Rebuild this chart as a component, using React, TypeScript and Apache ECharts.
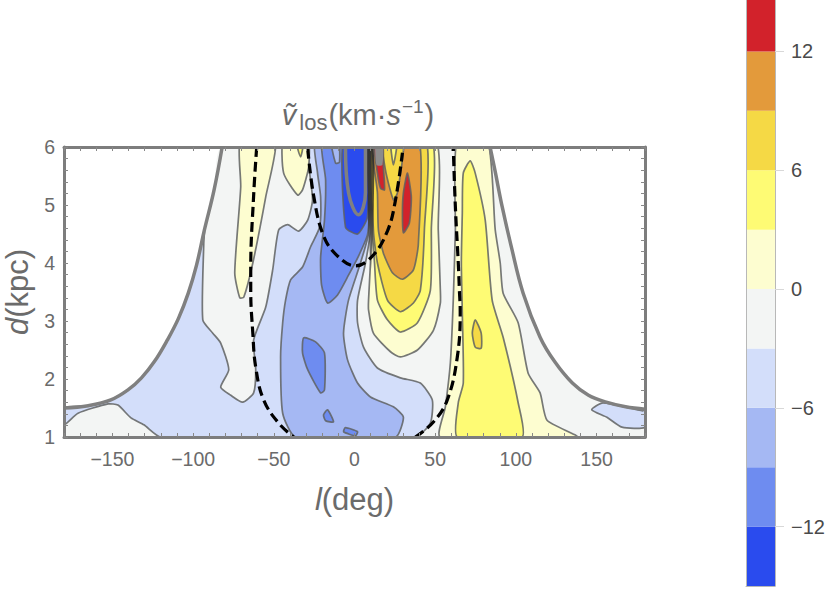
import { useEffect, useRef } from 'react';
import * as echarts from 'echarts';

type Pt = [number, number];

const xTickLabels = [-150, -100, -50, 0, 50, 100, 150];
const barTickLabels = [-12, -6, 0, 6, 12];
const barLevels = [-15, -12, -9, -6, -3, 0, 3, 6, 9, 12, 15];
const barColors = ['#2a4bee', '#6e8cf0', '#a5b8f3', '#d3defa', '#f3f5f4', '#fdfdd0', '#fefb74', '#f5d945', '#e39a3b', '#d2222b'];

// l (deg), d (kpc)
const envelopeLeft: Pt[] = [[-180, 1.5], [-165, 1.54], [-151, 1.64], [-140, 1.82], [-132, 2.02], [-124, 2.3], [-116, 2.67], [-109, 3.05], [-103, 3.48], [-98, 3.95], [-93, 4.57], [-87, 5.26], [-82, 6]];
const envelopeRight: Pt[] = [[84, 6], [87, 5.6], [91.5, 4.97], [97, 4.3], [104.5, 3.48], [115, 2.72], [124, 2.3], [135, 1.93], [145, 1.72], [156, 1.6], [168, 1.52], [180, 1.48]];

const dashOuterLeft: Pt[] = [[-60.6, 6], [-62.5, 5.16], [-64.3, 3.9], [-64.3, 3.53], [-63, 2.79], [-61.2, 2.2], [-56.3, 1.64], [-47, 1.24], [-37.7, 1]];
const dashOuterRight: Pt[] = [[37.7, 1], [48.9, 1.26], [57.5, 1.64], [63.7, 2.38], [65.5, 3.17], [65, 3.53], [64.3, 4], [62.5, 4.97], [61.2, 6]];
const dashInner: Pt[] = [[-29, 5.97], [-25.3, 5.16], [-19.2, 4.47], [-10.5, 4.12], [0.6, 3.95], [11.1, 4.12], [20.4, 4.55], [25.3, 5.07], [29.7, 5.9]];
const ringTop: Pt[] = [[-5.6, 6], [-3.7, 5.21], [2.5, 4.83], [6.8, 5.21], [6.8, 6]];

const neg3Main: Pt[] = [[-180, 1.21], [-180, 1.5], [-165, 1.54], [-151, 1.64], [-140, 1.82], [-132, 2.02], [-124, 2.3], [-116, 2.67], [-109, 3.05], [-103, 3.48], [-98, 3.95], [-93, 4.57], [-93.4, 4.34], [-94, 3.02], [-87.8, 2.79], [-82.9, 2.62], [-77.9, 2.16], [-82.9, 1.86], [-76.7, 1.72], [-69.3, 1.6], [-62.5, 1.76], [-61.2, 2.16], [-62.5, 2.67], [-55, 3.24], [-50.7, 3.88], [-47, 4.57], [-41.4, 4.66], [-34.6, 4.55], [-29, 4.74], [-26, 5.09], [-28.4, 5.72], [-27.2, 6.15], [9.9, 6.15], [9.9, 4.57], [6.8, 4], [1.9, 3.36], [1.9, 2.97], [5.6, 2.55], [14.2, 2.19], [28.4, 2.02], [40.8, 1.93], [48.2, 1.64], [47, 1.24], [37.7, 1], [-120, 1], [-130.5, 1.21], [-138.5, 1.33], [-146.6, 1.55], [-152.7, 1.57], [-171.3, 1.41]];
const neg3Right: Pt[] = [[147, 1.47], [154, 1.59], [178.7, 1.45], [180, 1.48], [180, 1.17], [165.7, 1.17], [156.4, 1.34]];
const neg6Main: Pt[] = [[-24.1, 6.15], [-22.9, 5.55], [-21, 5.14], [-21.6, 4.62], [-27.2, 4.28], [-32.2, 3.93], [-39.6, 3.71], [-42.7, 3.36], [-44.5, 2.97], [-45.8, 2.38], [-44.5, 1.41], [-36.5, 1], [25.4, 1], [30.3, 1.34], [24.1, 1.52], [9.9, 1.69], [1.9, 1.93], [-4.3, 2.33], [-6.8, 2.79], [-3.7, 3.36], [3.7, 4], [8.7, 4.52], [9.3, 6.15]];
const neg9Main: Pt[] = [[-19.8, 6.15], [-17.9, 5.43], [-18.6, 4.74], [-21, 4.1], [-20.4, 3.62], [-16.7, 3.31], [-10.5, 3.45], [-3.7, 3.79], [2.5, 4.12], [8, 4.48], [9, 4.83], [9, 6.15]];
const neg6Notch: Pt[] = [[-14.8, 6.15], [-11.7, 5.72], [-9.3, 5.74], [-9.9, 6.15]];
const neg9Blob: Pt[] = [[-31.5, 2.71], [-24.1, 2.64], [-18.6, 2.45], [-18.6, 1.81], [-21, 1.76], [-29, 2.16], [-32.2, 2.45]];
const neg9Small: Pt[] = [[-16.7, 1.47], [-13, 1.26], [-17.9, 1.28], [-19.2, 1.38]];
const neg9Foot: Pt[] = [[-5.6, 1.16], [1.9, 1.09], [0.6, 1.02], [-6.8, 1.09]];
const neg12Core: Pt[] = [[-6.8, 6.15], [-5.6, 4.62], [1.9, 4.5], [8, 4.79], [8.7, 6.15]];
// the steep jet where the contours pile up
const jetCore: Pt[] = [[8, 6.15], [12, 6.15], [12, 5], [11.5, 4.4], [10.5, 3.9], [9.5, 4], [8.5, 4.6], [8, 5.2]];

const pos0Main: Pt[] = [[10.2, 6.15], [10.5, 4.57], [9.9, 4], [8.7, 3.36], [8.7, 3.19], [11.7, 2.79], [22.3, 2.47], [28.4, 2.38], [39, 2.5], [48.9, 2.84], [53.2, 3.31], [53.2, 3.53], [51.9, 4.57], [50, 6.15]];
const pos3Main: Pt[] = [[10.8, 6.15], [11.1, 4.57], [12.4, 4], [14.2, 3.36], [20.4, 3.02], [28.4, 2.81], [39, 2.97], [47, 3.53], [47.6, 4.57], [47.6, 6.15]];
const pos6Main: Pt[] = [[11.4, 6.15], [11.7, 4.57], [14.2, 4], [20.4, 3.36], [28.4, 3.16], [36.5, 3.31], [40.8, 3.53], [43.3, 4.57], [43.9, 6.15]];
const pos9Main: Pt[] = [[11.7, 6.15], [14.2, 5.21], [14.8, 4.57], [17.9, 4.17], [23.5, 3.83], [29.7, 3.72], [36.5, 3.88], [39.6, 4.34], [39.6, 6.15]];
const pos6Wedge: Pt[] = [[17.3, 6.15], [19.2, 5.6], [24.1, 5.09], [26.6, 5.21], [30.3, 6.15]];
const pos3Wedge: Pt[] = [[22.3, 6.15], [24.1, 5.69], [26.6, 6.15]];
const pos12Left: Pt[] = [[11.7, 6.15], [14.2, 5.55], [16.1, 5.29], [18.6, 5.26], [17.9, 5.66], [17.3, 6.15]];
const pos12Cap: Pt[] = [[13, 6.15], [13.6, 5.69], [17.3, 5.69], [17.3, 6.15]];
const pos12Right: Pt[] = [[32.8, 5.55], [35.2, 5.14], [34, 4.69], [30.3, 4.52], [29.7, 4.86], [30.3, 5.21]];

const pos0East: Pt[] = [[63.7, 6.15], [62.5, 4.57], [61.2, 3.36], [59.4, 2.28], [56.3, 1.52], [53.2, 1], [137.9, 1], [119.3, 1.29], [115, 1.76], [107.6, 2.1], [101.4, 2.97], [92.1, 3.48], [90.3, 4], [87.2, 4.57], [82.2, 6.15]];
const pos3East: Pt[] = [[71.7, 5.76], [67.4, 5.55], [66.8, 4.86], [66.2, 4], [66.8, 3.14], [67.4, 1.93], [64.3, 1.59], [63.7, 1], [103.9, 1], [101.4, 1.59], [92.1, 2.72], [85.3, 3.36], [81, 4.74], [74.8, 5.55]];
const pos6East: Pt[] = [[74.8, 3.02], [78.5, 2.79], [78.5, 2.53], [74.8, 2.55], [73, 2.79]];
const pos0West: Pt[] = [[-70.5, 6.15], [-70.5, 5.31], [-74.2, 3.83], [-71.1, 3.4], [-68.6, 3.41], [-63, 4], [-55, 5.14], [-48.9, 6.15]];
const pos0Top: Pt[] = [[-43.9, 6.15], [-43.9, 5.55], [-35.2, 5.17], [-32.2, 5.26], [-28.4, 5.66], [-29, 6.15]];
const pos3Top: Pt[] = [[-36.5, 6.15], [-33.4, 5.83], [-31.5, 6.15]];

const [cNeg15, cNeg12, cNeg9, cNeg6, cNeg3, cPos0, cPos3, cPos6, cPos9, cPos12] = barColors;
const jetFill = new echarts.graphic.LinearGradient(0, 0, 0, 1, [
  { offset: 0, color: 'rgba(40,40,40,0.85)' },
  { offset: 0.55, color: 'rgba(40,40,40,0.75)' },
  { offset: 1, color: 'rgba(60,60,60,0.1)' },
]);
const layers: { pts: Pt[]; fill: any; line?: boolean }[] = [
  { pts: [...envelopeLeft, ...envelopeRight, [180, 1], [-180, 1]], fill: cNeg3, line: false },
  { pts: neg3Main, fill: cNeg6 },
  { pts: neg3Right, fill: cNeg6 },
  { pts: neg6Main, fill: cNeg9 },
  { pts: neg9Main, fill: cNeg12 },
  { pts: neg6Notch, fill: cNeg9 },
  { pts: neg9Blob, fill: cNeg12 },
  { pts: neg9Small, fill: cNeg12 },
  { pts: neg9Foot, fill: cNeg12 },
  { pts: neg12Core, fill: cNeg15 },
  { pts: pos0Main, fill: cPos0 },
  { pts: pos3Main, fill: cPos3 },
  { pts: pos6Main, fill: cPos6 },
  { pts: pos9Main, fill: cPos9 },
  { pts: jetCore, fill: jetFill, line: false },
  { pts: pos6Wedge, fill: cPos6 },
  { pts: pos3Wedge, fill: cPos3 },
  { pts: pos12Left, fill: cPos12 },
  { pts: pos12Cap, fill: '#8c8c8c', line: false },
  { pts: pos12Right, fill: cPos12 },
  { pts: pos0East, fill: cPos0 },
  { pts: pos3East, fill: cPos3 },
  { pts: pos6East, fill: cPos6 },
  { pts: pos0West, fill: cPos0 },
  { pts: pos0Top, fill: cPos0 },
  { pts: pos3Top, fill: cPos3 },
];

const FONT = '"Liberation Sans", Arial, sans-serif';
const FRAME = '#7d7d7d';
const TEXT = '#6b6b6b';

const minusLabel = (v: number) => (v < 0 ? '\u2212' + Math.abs(v) : String(v));

const frameAxis = {
  z: 5,
  splitLine: { show: false },
  axisLine: { show: true, onZero: false, lineStyle: { color: FRAME, width: 3 } },
  axisTick: { show: true, inside: true, length: 4, lineStyle: { color: '#888', width: 1 } },
};

const dashed = (data: Pt[]) => ({
  type: 'line',
  data,
  smooth: 0.4,
  symbol: 'none',
  z: 4,
  lineStyle: { color: '#000', width: 3.2, type: [10, 5] },
});

const grayLine = (data: Pt[]) => ({
  type: 'line',
  data,
  smooth: 0.4,
  symbol: 'none',
  z: 3,
  lineStyle: { color: '#808080', width: 3.5 },
});

const App = () => {
  const chartRef = useRef<HTMLDivElement>(null);

  useEffect(() => {
    if (!chartRef.current) return;

    const myChart = echarts.init(chartRef.current, null, { renderer: 'svg' });

    const titleBase = { fontFamily: FONT, fontWeight: 'normal', color: TEXT };
    const option = {
      animation: false,
      backgroundColor: '#fff',
      title: {
        left: 353,
        top: 92,
        textAlign: 'center',
        text: '{v|\u1e7d}{s|los}{n|(km\u00b7}{i|s}{e|\u22121}{n|)}',
        textStyle: {
          fontWeight: 'normal',
          rich: {
            v: { ...titleBase, fontStyle: 'italic', fontSize: 29, lineHeight: 36 },
            s: { ...titleBase, fontSize: 22, verticalAlign: 'bottom', lineHeight: 24, padding: [0, 1, 0, 3] },
            n: { ...titleBase, fontSize: 29, lineHeight: 36 },
            i: { ...titleBase, fontStyle: 'italic', fontSize: 29, lineHeight: 36 },
            e: { ...titleBase, fontSize: 19, verticalAlign: 'top', lineHeight: 14, padding: [0, 1, 0, 1] },
          },
        },
      },
      grid: [
        { left: 64, top: 147, width: 581, height: 290, outerBoundsMode: 'none' },
        { left: 746, top: 0, width: 29, height: 586, outerBoundsMode: 'none' },
      ],
      xAxis: [
        {
          ...frameAxis,
          type: 'value',
          gridIndex: 0,
          position: 'bottom',
          min: -180,
          max: 180,
          interval: 10,
          name: '{i|l}{n|(deg)}',
          nameLocation: 'middle',
          nameGap: 47,
          nameTextStyle: {
            rich: {
              i: { fontFamily: FONT, fontStyle: 'italic', fontSize: 31, color: TEXT },
              n: { fontFamily: FONT, fontSize: 31, color: TEXT },
            },
          },
          axisLabel: { customValues: xTickLabels, formatter: minusLabel, fontFamily: FONT, fontSize: 19.5, color: TEXT, margin: 12 },
        },
        {
          ...frameAxis,
          type: 'value',
          gridIndex: 0,
          position: 'top',
          min: -180,
          max: 180,
          interval: 10,
          axisLabel: { show: false },
        },
        {
          type: 'value',
          gridIndex: 1,
          position: 'bottom',
          min: 0,
          max: 1,
          z: 5,
          splitLine: { show: false },
          axisLabel: { show: false },
          axisTick: { show: false },
          axisLine: { show: true, onZero: false, lineStyle: { color: '#b8b8b8', width: 1 } },
        },
      ],
      yAxis: [
        {
          ...frameAxis,
          type: 'value',
          gridIndex: 0,
          position: 'left',
          min: 1,
          max: 6,
          interval: 1,
          minorTick: { show: true, splitNumber: 5, length: 4, lineStyle: { color: '#888' } },
          name: '{i|d}{n|(kpc)}',
          nameLocation: 'middle',
          nameGap: 31,
          nameTextStyle: {
            rich: {
              i: { fontFamily: FONT, fontStyle: 'italic', fontSize: 31, color: TEXT },
              n: { fontFamily: FONT, fontSize: 31, color: TEXT },
            },
          },
          axisLabel: { fontFamily: FONT, fontSize: 19.5, color: TEXT, margin: 9 },
        },
        {
          ...frameAxis,
          type: 'value',
          gridIndex: 0,
          position: 'right',
          min: 1,
          max: 6,
          interval: 1,
          minorTick: { show: true, splitNumber: 5, length: 4, lineStyle: { color: '#888' } },
          axisLabel: { show: false },
        },
        {
          type: 'value',
          gridIndex: 1,
          position: 'right',
          min: -15,
          max: 14.6,
          z: 5,
          splitLine: { show: false },
          axisLine: { show: true, onZero: false, lineStyle: { color: '#b8b8b8', width: 1 } },
          axisTick: { show: true, customValues: barTickLabels, length: 9, lineStyle: { color: '#d8d8d8' } },
          axisLabel: { customValues: barTickLabels, formatter: minusLabel, fontFamily: FONT, fontSize: 20, color: '#4a4a4a', margin: 16 },
        },
        {
          type: 'value',
          gridIndex: 1,
          position: 'left',
          min: -15,
          max: 14.6,
          z: 5,
          splitLine: { show: false },
          axisLabel: { show: false },
          axisTick: { show: false },
          axisLine: { show: true, onZero: false, lineStyle: { color: '#b8b8b8', width: 1 } },
        },
      ],
      series: [
        {
          type: 'custom',
          xAxisIndex: 0,
          yAxisIndex: 0,
          clip: true,
          z: 2,
          data: layers.map((_, i) => [i]),
          renderItem: (params: any, api: any) => {
            const layer = layers[params.dataIndex];
            return {
              type: 'polygon',
              shape: { points: layer.pts.map(p => api.coord(p)), smooth: 0.2 },
              style: {
                fill: layer.fill,
                stroke: layer.line === false ? 'none' : 'rgba(95,98,98,0.85)',
                lineWidth: 1.7,
              },
            };
          },
        },
        { ...grayLine(envelopeLeft), xAxisIndex: 0, yAxisIndex: 0 },
        { ...grayLine(envelopeRight), xAxisIndex: 0, yAxisIndex: 0 },
        { ...grayLine(ringTop), xAxisIndex: 0, yAxisIndex: 0 },
        { ...dashed(dashOuterLeft), xAxisIndex: 0, yAxisIndex: 0 },
        { ...dashed(dashOuterRight), xAxisIndex: 0, yAxisIndex: 0 },
        { ...dashed(dashInner), xAxisIndex: 0, yAxisIndex: 0 },
        {
          type: 'custom',
          xAxisIndex: 2,
          yAxisIndex: 2,
          clip: true,
          z: 2,
          data: barColors.map((_, i) => [i]),
          renderItem: (params: any, api: any) => {
            const i = params.dataIndex;
            const a = api.coord([0, barLevels[i + 1]]);
            const b = api.coord([1, barLevels[i]]);
            return {
              type: 'rect',
              shape: { x: a[0], y: a[1], width: b[0] - a[0], height: b[1] - a[1] },
              style: { fill: barColors[i] },
            };
          },
        },
      ],
    };

    myChart.setOption(option);

    return () => {
      myChart.dispose();
    };
  }, []);

  return <div ref={chartRef} style={{ position: 'absolute', left: 0, top: 0, width: 830, height: 611 }} />;
};

export default App;
